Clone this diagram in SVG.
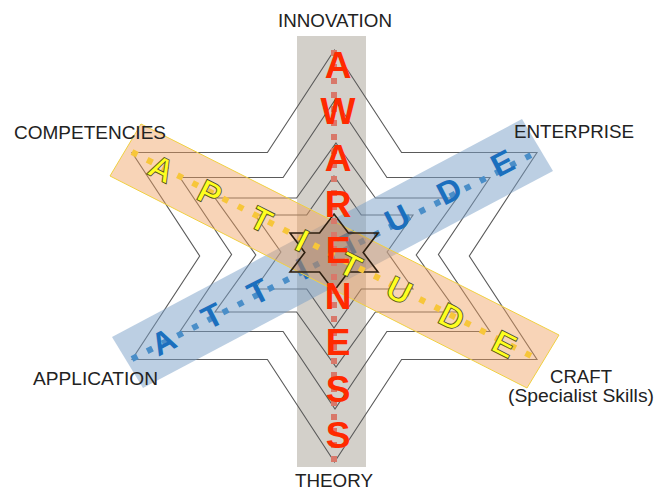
<svg xmlns="http://www.w3.org/2000/svg" width="655" height="492" viewBox="0 0 655 492">
<style>
.lbl{font-family:"Liberation Sans",Arial,sans-serif;font-size:17.5px;fill:#222;}
.star{fill:none;stroke:#5a5a5a;stroke-width:1.1;stroke-linejoin:miter}
.yl{font-family:"Liberation Sans",Arial,sans-serif;font-size:33px;font-weight:bold;fill:#ffff1f;stroke:#4a4a20;stroke-width:0.8;text-anchor:middle}
.bl{font-family:"Liberation Sans",Arial,sans-serif;font-size:32px;font-weight:bold;fill:#1b6fbe;text-anchor:middle}
.rl{font-family:"Liberation Sans",Arial,sans-serif;font-size:37px;font-weight:bold;fill:#ff2a00;text-anchor:middle}
.dot{fill:none;stroke-width:6}
</style>
<rect width="655" height="492" fill="#ffffff"/>
<rect id="awareness-band" x="297" y="36" width="69" height="431" fill="#d3d0ca"/>
<g id="stars">
<polygon id="star1" class="star" points="334.5,50 401.6,152.5 537,152.5 469.3,256 537,359.5 401.6,359.5 334.5,462 267.4,359.5 132,359.5 199.7,256 132,152.5 267.4,152.5"/>
<polygon id="star2" class="star" points="335,100 386.9,177.5 490,177.5 438.4,254.5 490,331.5 386.9,331.5 335,409 283.1,331.5 180,331.5 231.6,254.5 180,177.5 283.1,177.5"/>
<polygon id="star3" class="star" points="336,143 375.4,198 457,198 416.2,255 457,312 375.4,312 336,367 296.6,312 215,312 255.8,255 215,198 296.6,198"/>
<polygon id="star4" class="star" points="334,176 361.3,215 413,215 387.1,252 413,289 361.3,289 334,328 306.7,289 255,289 280.9,252 255,215 306.7,215"/>
</g>
<g id="attitude">
<polygon points="112,337 522,119 553,171 143,388" fill="#7aa0c8" fill-opacity="0.5"/>
<line class="dot" x1="132" y1="359" x2="537" y2="152" stroke="#4a8ec8" stroke-dasharray="6 11"/>
<text class="bl" transform="translate(163.4,341.3) rotate(-27.07)" dy="0.36em">A</text>
<text class="bl" transform="translate(212,315.6) rotate(-27.07)" dy="0.36em">T</text>
<text class="bl" transform="translate(258,291.3) rotate(-27.07)" dy="0.36em">T</text>
<text class="bl" transform="translate(302.3,268.1) rotate(-27.07)" dy="0.36em">I</text>
<text class="bl" transform="translate(349.2,243.3) rotate(-27.07)" dy="0.36em">T</text>
<text class="bl" transform="translate(397,218.1) rotate(-27.07)" dy="0.36em">U</text>
<text class="bl" transform="translate(449.1,190.5) rotate(-27.07)" dy="0.36em">D</text>
<text class="bl" transform="translate(502.2,162.6) rotate(-27.07)" dy="0.36em">E</text>
</g>
<g id="aptitude">
<polygon points="141,124 559,335 527,388 110,176" fill="#f0a060" fill-opacity="0.45" stroke="#f0d040" stroke-width="1"/>
<polygon id="star5" points="334,214 348.4,233 378,233 363.2,252.5 378,272 348.4,272 334,291 319.6,272 290,272 304.8,252.5 290,233 319.6,233" fill="#6e3c1e" fill-opacity="0.14" stroke="#2e1f10" stroke-width="1.6"/>
<line class="dot" x1="132" y1="152" x2="537" y2="359" stroke="#f7c63a" stroke-dasharray="6 11"/>
<text class="yl" transform="translate(161.8,168.4) rotate(27.07)" dy="0.36em">A</text>
<text class="yl" transform="translate(209.9,192.9) rotate(27.07)" dy="0.36em">P</text>
<text class="yl" transform="translate(261.5,219.3) rotate(27.07)" dy="0.36em">T</text>
<text class="yl" transform="translate(302.5,240.3) rotate(27.07)" dy="0.36em">I</text>
<text class="yl" transform="translate(350.6,264.9) rotate(27.07)" dy="0.36em">T</text>
<text class="yl" transform="translate(399.5,289.9) rotate(27.07)" dy="0.36em">U</text>
<text class="yl" transform="translate(452.1,316.7) rotate(27.07)" dy="0.36em">D</text>
<text class="yl" transform="translate(504.6,343.6) rotate(27.07)" dy="0.36em">E</text>
</g>
<g id="awareness">
<line class="dot" x1="334" y1="50" x2="334" y2="462" stroke="#d8786a" stroke-dasharray="6 8"/>
<text class="rl" x="338" y="78.2">A</text>
<text class="rl" x="338" y="124.2">W</text>
<text class="rl" x="338" y="171.2">A</text>
<text class="rl" x="338" y="217.2">R</text>
<text class="rl" x="338" y="263.2">E</text>
<text class="rl" x="338" y="309.2">N</text>
<text class="rl" x="338" y="355.2">E</text>
<text class="rl" x="338" y="402.2">S</text>
<text class="rl" x="338" y="448.2">S</text>
</g>
<g id="labels">
<text id="innovation" class="lbl" x="278" y="27" textLength="114" lengthAdjust="spacingAndGlyphs">INNOVATION</text>
<text id="competencies" class="lbl" x="14" y="139" textLength="152" lengthAdjust="spacingAndGlyphs">COMPETENCIES</text>
<text id="enterprise" class="lbl" x="514" y="138" textLength="120" lengthAdjust="spacingAndGlyphs">ENTERPRISE</text>
<text id="application" class="lbl" x="33" y="385" textLength="125" lengthAdjust="spacingAndGlyphs">APPLICATION</text>
<text id="craft" class="lbl" x="550" y="383" textLength="62" lengthAdjust="spacingAndGlyphs">CRAFT</text>
<text id="specialist" class="lbl" x="508" y="402" textLength="146" lengthAdjust="spacingAndGlyphs">(Specialist Skills)</text>
<text id="theory" class="lbl" x="295" y="487" textLength="78" lengthAdjust="spacingAndGlyphs">THEORY</text>
</g>
</svg>
